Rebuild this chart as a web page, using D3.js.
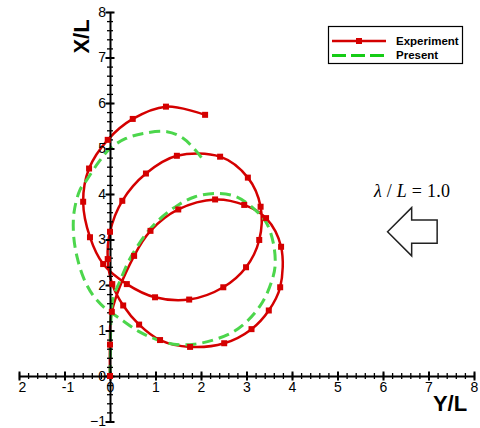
<!DOCTYPE html>
<html>
<head>
<meta charset="utf-8">
<script src="https://cdn.jsdelivr.net/npm/d3@7"></script>
<style>
    body { margin: 0; background: #fff; }
    svg { display: block; font-family: "Liberation Sans", Arial, sans-serif; }
</style>
</head>
<body>
<div id="chart"></div>
<script>
// Experiment track (marker points), Y/L horizontal and X/L vertical
const expY = [0, 0, 0.04, 0.53, 0.89, 1.5, 2.31, 2.95, 3.43, 3.76, 3.74, 3.49, 3.11, 2.51, 1.76, 1.1, 0.64, 0.29,
    0.05, -0.05, 0, 0.27, 0.79, 1.47, 2.42, 3.03, 3.31, 3.28, 2.99, 2.49, 1.74, 0.99, 0.37, -0.15, -0.44, -0.59,
    -0.46, -0.05, 0.5, 1.23, 2.09];
const expX = [0, 0.69, 1.41, 2.64, 3.19, 3.66, 3.88, 3.76, 3.47, 2.84, 1.95, 1.44, 1.03, 0.72, 0.64, 0.79, 1.13, 1.55,
    2.02, 2.57, 3.17, 3.85, 4.45, 4.84, 4.82, 4.36, 3.72, 2.99, 2.39, 1.95, 1.68, 1.73, 2.02, 2.46, 3.05, 3.83,
    4.56, 5.19, 5.65, 5.92, 5.74];

// Present computation track
const preY = [0, 0.01, 0.02, 0.07, 0.22, 0.45, 0.83, 1.15, 1.5, 1.87, 2.34, 2.78, 3.19, 3.44, 3.59, 3.63, 3.56, 3.35,
    3.04, 2.71, 2.3, 1.85, 1.4, 1.0, 0.63, 0.22, -0.12, -0.37, -0.57, -0.72, -0.8, -0.79, -0.66, -0.51, -0.25, 0,
    0.35, 0.73, 1.25, 1.6, 1.87, 2.03];
const preX = [0, 0.6, 1.22, 1.73, 2.09, 2.6, 3.17, 3.5, 3.76, 3.94, 4.01, 3.94, 3.65, 3.36, 2.92, 2.44, 2.1, 1.62,
    1.23, 0.97, 0.8, 0.7, 0.7, 0.81, 0.98, 1.26, 1.5, 1.77, 2.13, 2.6, 3.1, 3.6, 4.09, 4.31, 4.7, 5.0,
    5.22, 5.33, 5.37, 5.23, 4.97, 4.77];

// Axis ticks
const xTicks = [-2, -1, 0, 1, 2, 3, 4, 5, 6, 7, 8];
const xTickLabels = ["2", "-1", "0", "1", "2", "3", "4", "5", "6", "7", "8"];
const yTicks = [-1, 0, 1, 2, 3, 4, 5, 6, 7, 8];

// Wave direction arrow outline (data units)
const arrowY = [6.10, 6.63, 6.63, 7.19, 7.19, 6.63, 6.63];
const arrowX = [3.17, 3.70, 3.43, 3.43, 2.92, 2.92, 2.64];

const width = 480, height = 428;
const red = "#d40000", green = "#4cd64c";

const svg = d3.select("#chart").append("svg")
    .attr("width", width)
    .attr("height", height);

const x = d3.scaleLinear().domain([-2, 8]).range([19, 474]);
const y = d3.scaleLinear().domain([-1, 8]).range([421.5, 12]);

const expData = expY.map((v, i) => ({ yl: v, xl: expX[i] }));
const preData = preY.map((v, i) => ({ yl: v, xl: preX[i] }));

const lineGen = d3.line()
    .x(d => x(d.yl))
    .y(d => y(d.xl))
    .curve(d3.curveCatmullRom.alpha(0.5));

// Experiment line
svg.append("path")
    .attr("d", lineGen(expData))
    .attr("fill", "none")
    .attr("stroke", red)
    .attr("stroke-width", 2.5);

// Present (dashed)
svg.append("path")
    .attr("d", lineGen(preData))
    .attr("fill", "none")
    .attr("stroke", green)
    .attr("stroke-width", 3)
    .attr("stroke-dasharray", "11,6");

// Axes crossing at the origin
const minorX = d3.range(-2, 8.001, 0.2);
const minorY = d3.range(-1, 8.001, 0.2);

const xMinor = svg.append("g")
    .attr("transform", `translate(0,${y(0)})`)
    .call(d3.axisBottom(x).tickValues(minorX).tickFormat("").tickSizeOuter(0));
xMinor.select(".domain").remove();
xMinor.selectAll(".tick line").attr("y1", -3).attr("y2", 3).attr("stroke-width", 1.3);

const yMinor = svg.append("g")
    .attr("transform", `translate(${x(0)},0)`)
    .call(d3.axisLeft(y).tickValues(minorY).tickFormat("").tickSizeOuter(0));
yMinor.select(".domain").remove();
yMinor.selectAll(".tick line").attr("x1", -3).attr("x2", 3).attr("stroke-width", 1.3);

const xAxis = svg.append("g")
    .attr("transform", `translate(0,${y(0)})`)
    .call(d3.axisBottom(x).tickValues(xTicks).tickFormat((d, i) => xTickLabels[i]).tickSizeOuter(0));
xAxis.select(".domain").attr("stroke-width", 2);
xAxis.selectAll(".tick line").attr("y1", -4.5).attr("y2", 4.5).attr("stroke-width", 2);
xAxis.selectAll(".tick text")
    .attr("y", 6)
    .attr("dx", d => d < 0 ? 3 : 0)
    .attr("font-size", 14)
    .attr("font-family", "Liberation Sans, Arial, sans-serif")
    .attr("fill", "#000");

const yAxis = svg.append("g")
    .attr("transform", `translate(${x(0)},0)`)
    .call(d3.axisLeft(y).tickValues(yTicks).tickSizeOuter(0));
yAxis.select(".domain").attr("stroke-width", 2);
yAxis.selectAll(".tick line").attr("x1", -4.5).attr("x2", 4.5).attr("stroke-width", 2);
yAxis.selectAll(".tick text")
    .attr("x", -4)
    .attr("font-size", 14)
    .attr("font-family", "Liberation Sans, Arial, sans-serif")
    .attr("fill", "#000");

// Experiment markers
svg.selectAll(".marker")
    .data(expData)
    .enter()
    .append("rect")
    .attr("class", "marker")
    .attr("x", d => x(d.yl) - 3)
    .attr("y", d => y(d.xl) - 3)
    .attr("width", 6)
    .attr("height", 6)
    .attr("fill", red);

// Axis titles
svg.append("text")
    .attr("transform", "translate(89,36.5) rotate(-90)")
    .attr("text-anchor", "middle")
    .attr("font-size", 22)
    .attr("font-weight", "bold")
    .text("X/L");

svg.append("text")
    .attr("x", 450)
    .attr("y", 411)
    .attr("text-anchor", "middle")
    .attr("font-size", 22)
    .attr("font-weight", "bold")
    .text("Y/L");

// Legend
const legend = svg.append("g");
legend.append("rect")
    .attr("x", 328.5).attr("y", 26.5)
    .attr("width", 134).attr("height", 37)
    .attr("fill", "#fff")
    .attr("stroke", "#000")
    .attr("stroke-width", 1.2);
legend.append("line")
    .attr("x1", 332).attr("x2", 386).attr("y1", 41).attr("y2", 41)
    .attr("stroke", red).attr("stroke-width", 2.5);
legend.append("rect")
    .attr("x", 356).attr("y", 38).attr("width", 6).attr("height", 6)
    .attr("fill", red);
legend.append("line")
    .attr("x1", 332).attr("x2", 384).attr("y1", 55.5).attr("y2", 55.5)
    .attr("stroke", "#16cc16").attr("stroke-width", 3)
    .attr("stroke-dasharray", "14,5");
legend.append("text")
    .attr("x", 396).attr("y", 45)
    .attr("font-size", 11.5).attr("font-weight", "bold")
    .text("Experiment");
legend.append("text")
    .attr("x", 396).attr("y", 59)
    .attr("font-size", 11.5).attr("font-weight", "bold")
    .text("Present");

// Wavelength label and direction arrow
const lam = svg.append("text")
    .attr("x", 374)
    .attr("y", 197)
    .attr("font-family", "Liberation Serif, Times New Roman, serif")
    .attr("font-size", 18)
    .attr("textLength", 76)
    .attr("lengthAdjust", "spacing");
lam.append("tspan").attr("font-style", "italic").text("λ");
lam.append("tspan").text(" / ");
lam.append("tspan").attr("font-style", "italic").text("L");
lam.append("tspan").text(" = 1.0");

const arrowPts = arrowY.map((v, i) => [x(v), y(arrowX[i])]);
svg.append("path")
    .attr("d", d3.line()(arrowPts) + "Z")
    .attr("fill", "#fff")
    .attr("stroke", "#222")
    .attr("stroke-width", 1.5);
</script>
</body>
</html>
